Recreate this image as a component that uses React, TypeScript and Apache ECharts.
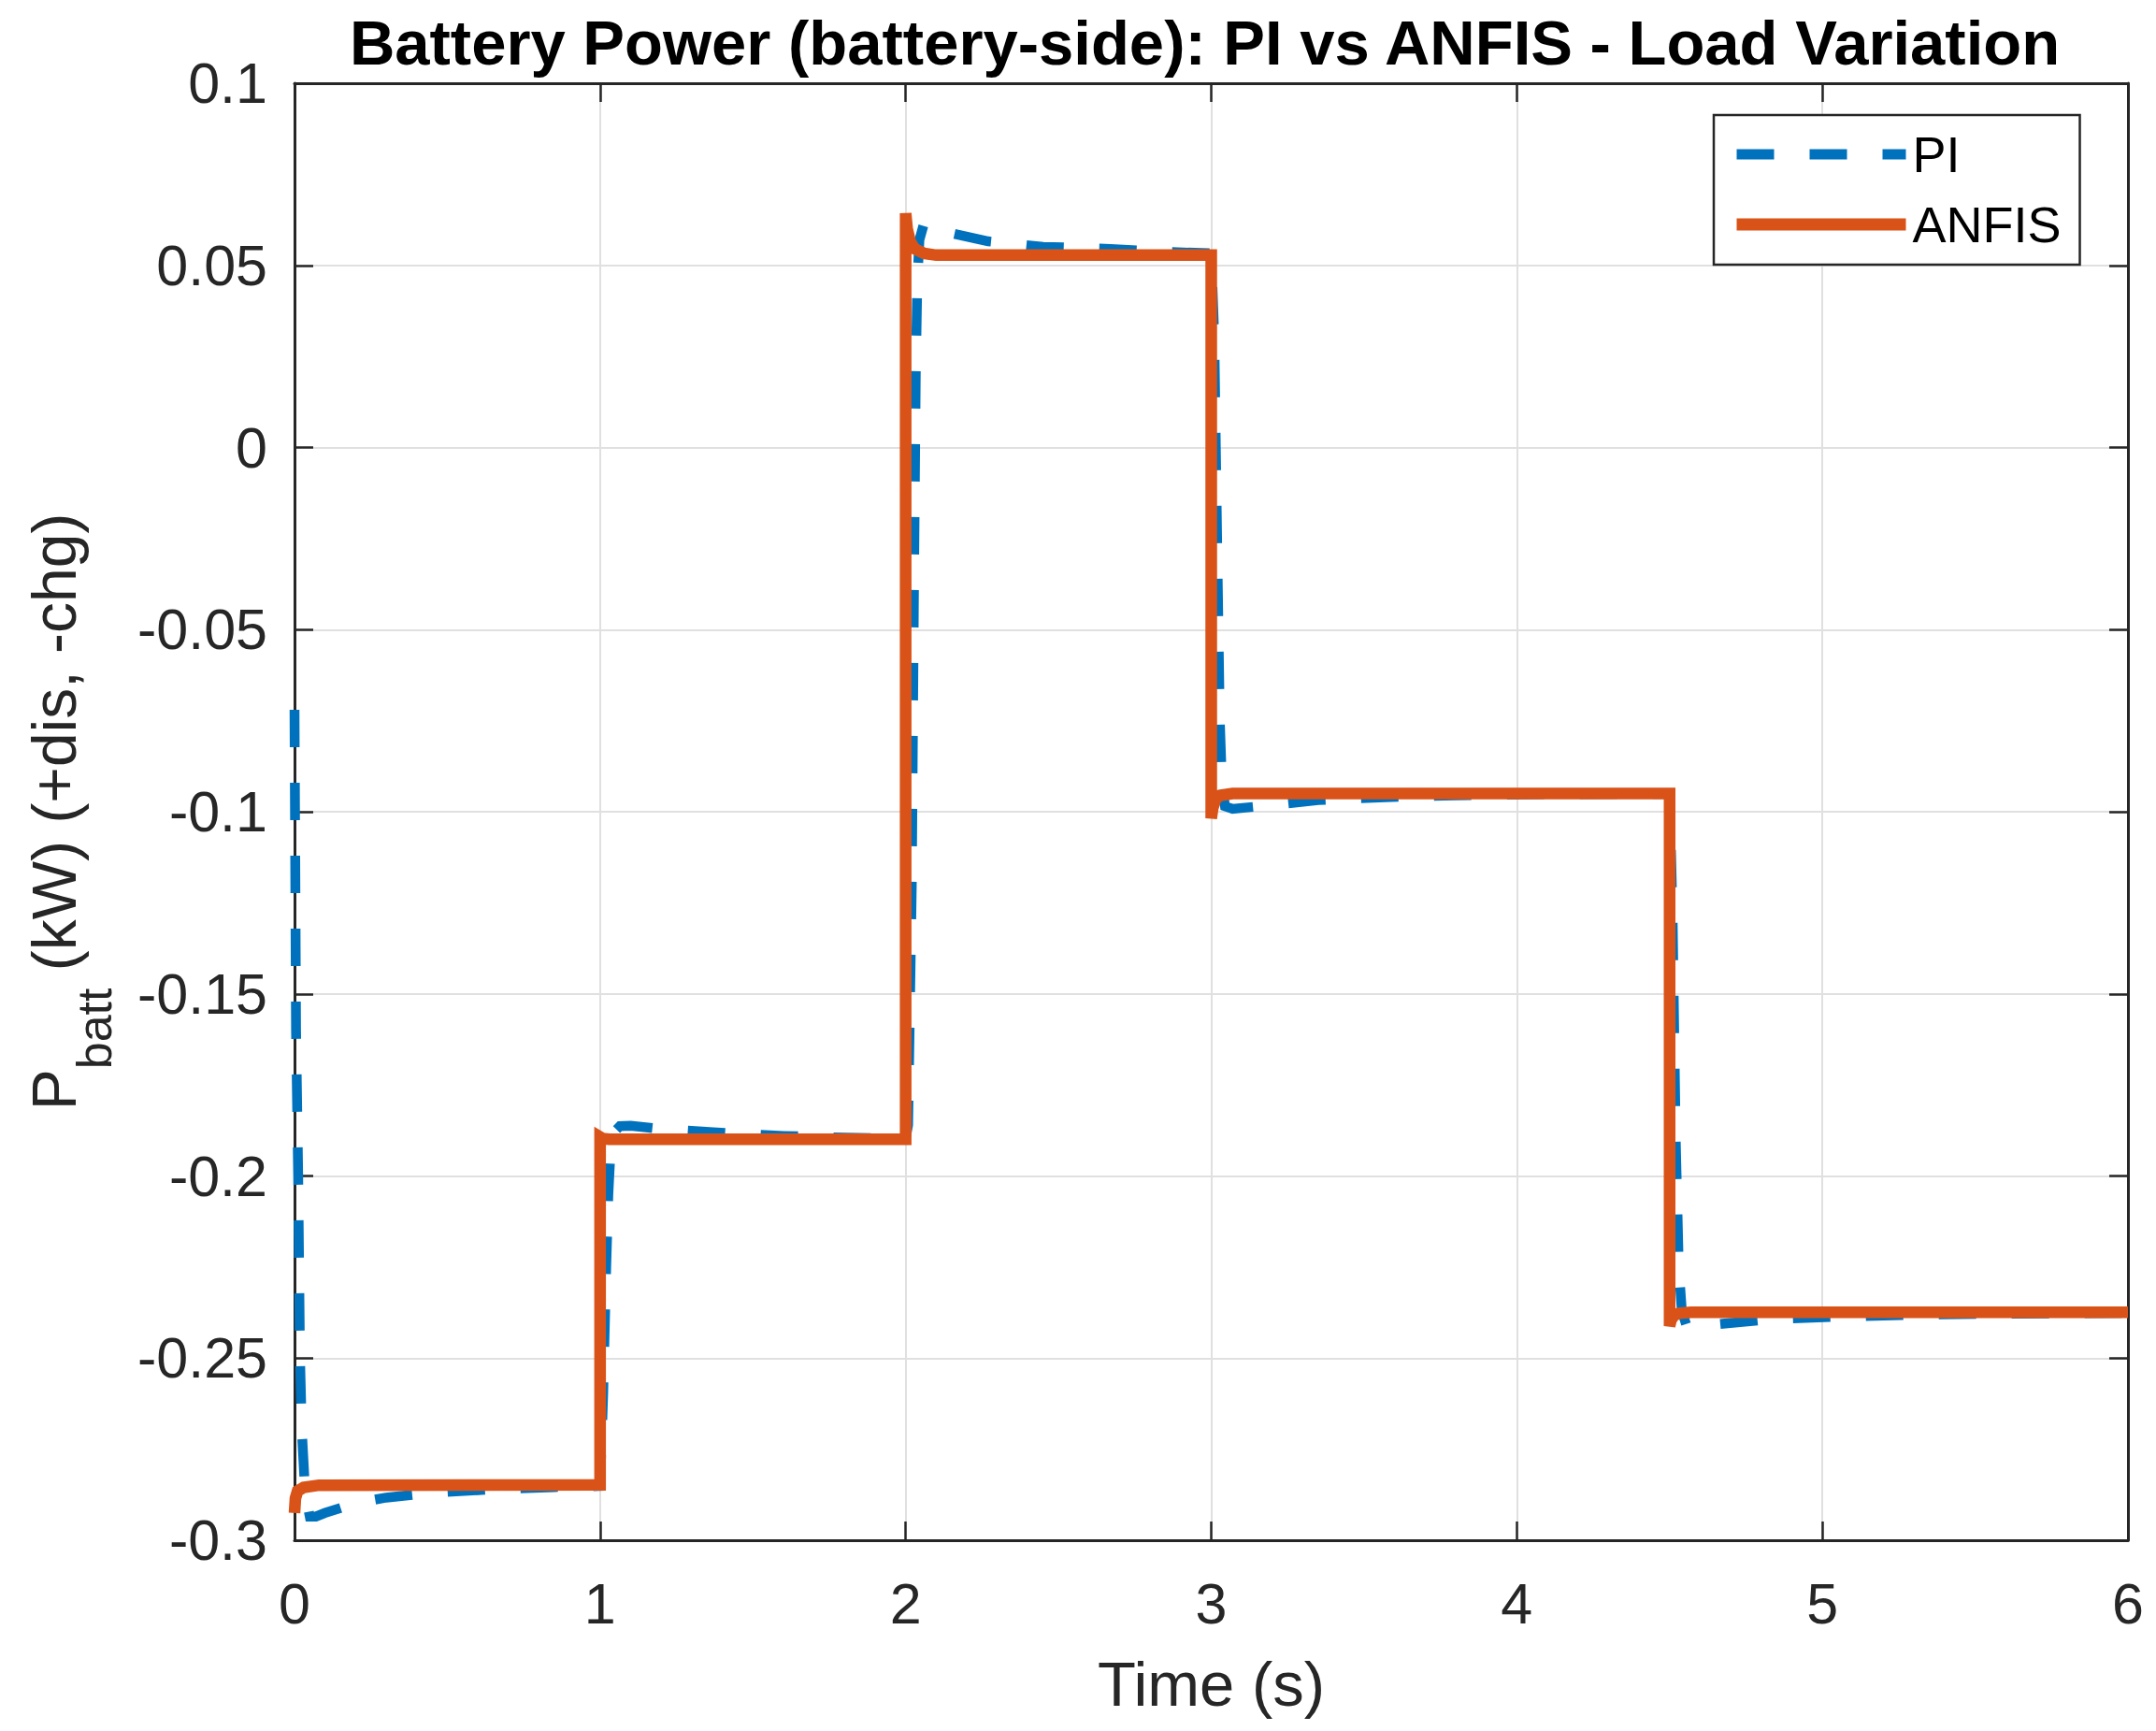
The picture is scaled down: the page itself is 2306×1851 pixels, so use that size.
import React, { useEffect, useRef } from "react";
import * as echarts from "echarts";

// ---- data ----
const piTime = [
  0, 0.005, 0.012, 0.018, 0.024, 0.035, 0.05, 0.07, 0.1, 0.2, 0.3, 0.45, 0.65, 0.85, 1.0,
  1.01, 1.02, 1.027, 1.033, 1.045, 1.065, 1.1, 1.19, 1.37, 1.6, 1.8, 2.0,
  2.008, 2.02, 2.027, 2.033, 2.038, 2.045, 2.06, 2.08, 2.15, 2.27, 2.45, 2.67, 2.85, 3.0,
  3.01, 3.02, 3.028, 3.035, 3.045, 3.07, 3.16, 3.35, 3.57, 3.8, 4.1, 4.5,
  4.51, 4.52, 4.53, 4.54, 4.555, 4.58, 4.645, 4.83, 5.05, 5.3, 5.6, 6.0,
];
const piPower = [
  -0.072, -0.16, -0.2, -0.25, -0.27, -0.287, -0.2935, -0.2935, -0.2925, -0.2898, -0.2883, -0.287, -0.286, -0.2854, -0.2851,
  -0.26, -0.225, -0.205, -0.195, -0.188, -0.1863, -0.1862, -0.187, -0.188, -0.189, -0.1895, -0.1897,
  -0.186, -0.12, -0.04, 0.02, 0.045, 0.057, 0.0615, 0.0617, 0.0588, 0.0566, 0.0551, 0.0545, 0.0537, 0.0533,
  0.03, -0.03, -0.075, -0.092, -0.0985, -0.0992, -0.0985, -0.0968, -0.096, -0.0955, -0.0952, -0.0951,
  -0.13, -0.19, -0.225, -0.237, -0.241, -0.2415, -0.2408, -0.2393, -0.2386, -0.2381, -0.2378, -0.2376,
];
const anfisTime = [
  0, 0.003, 0.01, 0.03, 0.08, 1.0,
  1.0, 1.008, 1.03, 2.0,
  2.0, 2.005, 2.015, 2.03, 2.06, 2.1, 3.0,
  3.0, 3.005, 3.015, 3.03, 3.07, 4.5,
  4.5, 4.505, 4.515, 4.53, 4.57, 6.0,
];
const anfisPower = [
  -0.2925, -0.2885, -0.2865, -0.2855, -0.2849, -0.2848,
  -0.1893, -0.1897, -0.1899, -0.1899,
  0.0643, 0.06, 0.0565, 0.0545, 0.0533, 0.0528, 0.0528,
  -0.1018, -0.099, -0.0965, -0.0955, -0.095, -0.095,
  -0.2412, -0.2395, -0.2383, -0.2377, -0.2374, -0.2374,
];
const seriesNames = ["PI", "ANFIS"];
const seriesColors = ["#0072BD", "#D95319"];
const xMin = 0;
const xMax = 6;
const xStep = 1;
const yMin = -0.3;
const yMax = 0.1;
const yStep = 0.05;
const titleText = "Battery Power (battery-side): PI vs ANFIS - Load Variation";
const xName = "Time (s)";
const yNameMain = "P";
const yNameSub = "batt";
const yNameRest = " (kW) (+dis, -chg)";

const FONT = "'Liberation Sans', Arial, Helvetica, sans-serif";
const AXIS_COLOR = "#262626";

const zip = (t: number[], v: number[]) => t.map((x, i) => [x, v[i]]);

const fmtY = (v: number) => {
  const r = Math.round(v * 100) / 100;
  return (Object.is(r, -0) ? 0 : r).toString();
};

function buildOption(): any {
  const axisLine = { show: true, onZero: false, lineStyle: { color: AXIS_COLOR, width: 3 } };
  const axisTick = { show: true, inside: true, length: 20, lineStyle: { color: AXIS_COLOR, width: 2.5 } };
  const splitLine = { show: true, lineStyle: { color: "#e0e0e0", width: 2 } };
  const grid = { left: 301, top: 89, width: 1975, height: 1558, containLabel: false };

  return {
    animation: false,
    backgroundColor: "#ffffff",
    title: {
      text: titleText,
      left: 1288.5,
      top: 12,
      padding: 0,
      textAlign: "center",
      textStyle: { fontFamily: FONT, fontSize: 67, fontWeight: "bold", color: "#000000" },
    },
    legend: {
      orient: "vertical",
      left: 1833,
      top: 123,
      padding: [15, 20, 16, 18],
      itemWidth: 181,
      itemHeight: 52,
      itemGap: 21,
      selectedMode: false,
      backgroundColor: "#ffffff",
      borderColor: AXIS_COLOR,
      borderWidth: 2.5,
      borderRadius: 0,
      itemStyle: { color: "rgba(0,0,0,0)", borderWidth: 0, borderColor: "rgba(0,0,0,0)" },
      textStyle: { fontFamily: FONT, fontSize: 54, color: "#000000", padding: [0, 0, 0, 2] },
      data: [
        { name: seriesNames[0], lineStyle: { color: seriesColors[0], width: 11, type: [40, 38] }, itemStyle: { color: "rgba(0,0,0,0)", borderWidth: 0 } },
        { name: seriesNames[1], lineStyle: { color: seriesColors[1], width: 13, type: "solid" }, itemStyle: { color: "rgba(0,0,0,0)", borderWidth: 0 } },
      ],
    },
    grid,
    xAxis: [
      {
        type: "value",
        min: xMin,
        max: xMax,
        interval: xStep,
        position: "bottom",
        name: xName,
        nameLocation: "middle",
        nameGap: 120,
        nameTextStyle: { fontFamily: FONT, fontSize: 67, color: AXIS_COLOR },
        axisLine,
        axisTick,
        splitLine,
        axisLabel: { show: true, margin: 37, fontFamily: FONT, fontSize: 61, color: AXIS_COLOR },
      },
      {
        type: "value",
        min: xMin,
        max: xMax,
        interval: xStep,
        position: "top",
        axisLine,
        axisTick,
        splitLine: { show: false },
        axisLabel: { show: false },
      },
    ],
    yAxis: [
      {
        type: "value",
        min: yMin,
        max: yMax,
        interval: yStep,
        position: "left",
        name: `{m|${yNameMain}}{s|${yNameSub}}{m|${yNameRest}}`,
        nameLocation: "middle",
        nameGap: 207,
        nameTextStyle: {
          fontFamily: FONT,
          fontSize: 66,
          color: AXIS_COLOR,
          lineHeight: 100,
          rich: {
            m: { fontFamily: FONT, fontSize: 66, color: AXIS_COLOR, lineHeight: 100 },
            s: { fontFamily: FONT, fontSize: 52, color: AXIS_COLOR, lineHeight: 100, height: 14, verticalAlign: "bottom" },
          },
        },
        axisLine,
        axisTick,
        splitLine,
        axisLabel: { show: true, margin: 29, fontFamily: FONT, fontSize: 61, color: AXIS_COLOR, formatter: fmtY },
      },
      {
        type: "value",
        min: yMin,
        max: yMax,
        interval: yStep,
        position: "right",
        axisLine,
        axisTick,
        splitLine: { show: false },
        axisLabel: { show: false },
      },
    ],
    series: [
      {
        name: seriesNames[0],
        type: "line",
        xAxisIndex: 0,
        yAxisIndex: 0,
        data: zip(piTime, piPower),
        symbol: "none",
        showSymbol: false,
        smooth: false,
        clip: true,
        lineStyle: { color: seriesColors[0], width: 10.5, type: [40, 38], cap: "butt", join: "miter" },
        itemStyle: { color: seriesColors[0] },
        z: 2,
      },
      {
        name: seriesNames[1],
        type: "line",
        xAxisIndex: 0,
        yAxisIndex: 0,
        data: zip(anfisTime, anfisPower),
        symbol: "none",
        showSymbol: false,
        smooth: false,
        clip: true,
        lineStyle: { color: seriesColors[1], width: 12.5, type: "solid", cap: "butt", join: "miter" },
        itemStyle: { color: seriesColors[1] },
        z: 3,
      },
    ],
  };
}

export default function App() {
  const ref = useRef<HTMLDivElement>(null);
  useEffect(() => {
    document.body.style.margin = "0";
    if (!ref.current) return;
    const chart = echarts.init(ref.current, null, { renderer: "svg" });
    chart.setOption(buildOption());
    return () => {
      chart.dispose();
    };
  }, []);
  return <div ref={ref} style={{ width: 2306, height: 1851 }} />;
}
